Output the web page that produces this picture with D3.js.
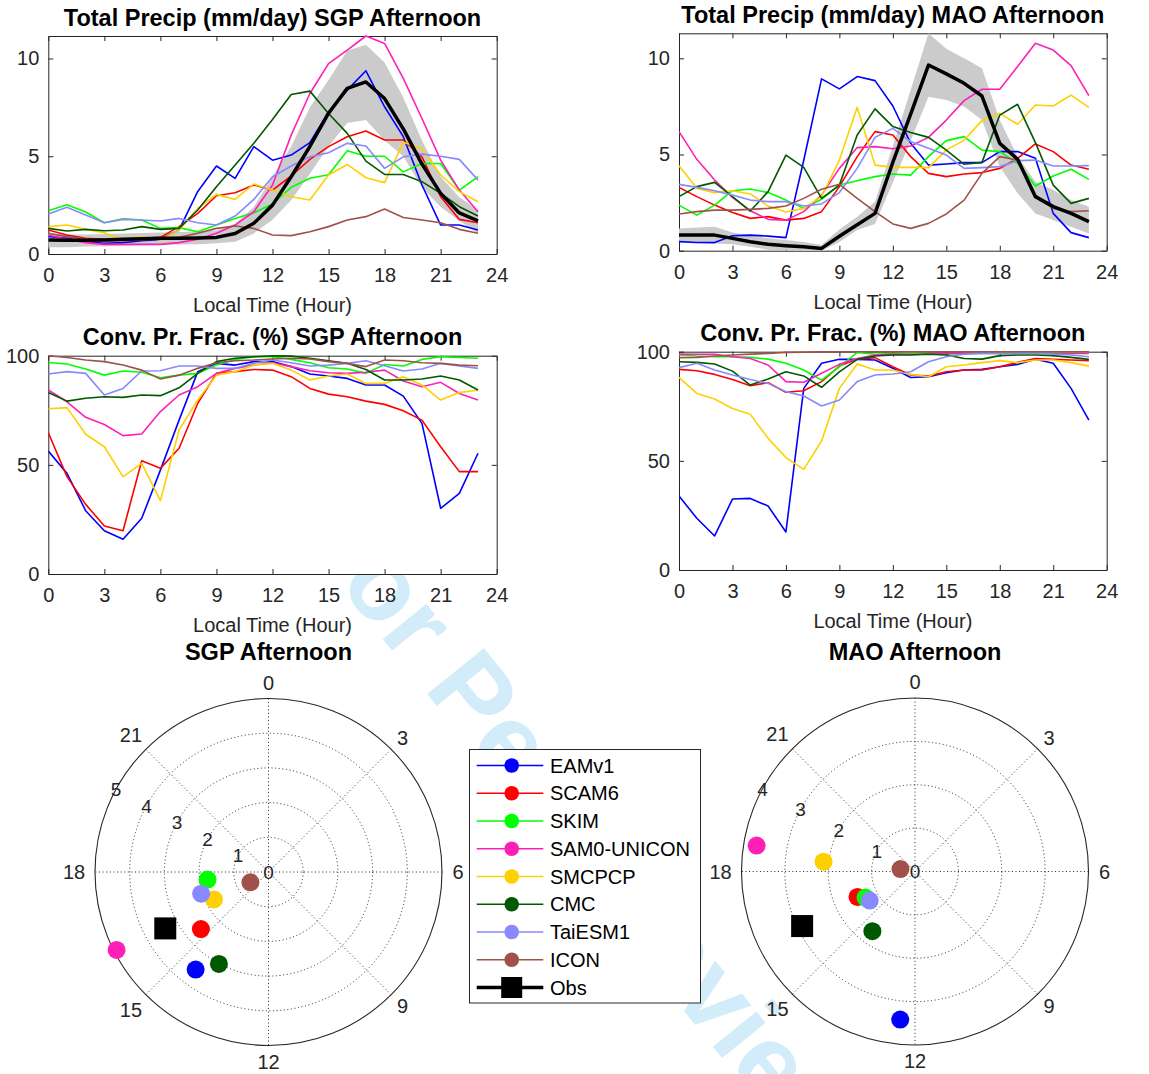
<!DOCTYPE html>
<html>
<head>
<meta charset="utf-8">
<script src="https://cdn.jsdelivr.net/npm/d3@7"></script>
<style>
  body { margin: 0; background: #ffffff; }
  svg { display: block; }
</style>
</head>
<body>
<svg id="fig" width="1149" height="1074"></svg>
<script>
// ---------- data ----------
const hours = d3.range(24);
const hourTicks = [0, 3, 6, 9, 12, 15, 18, 21, 24];
const precipTicks = [0, 5, 10];
const fracTicks = [0, 50, 100];
const clockTicks = [0, 3, 6, 9, 12, 15, 18, 21];
const sgpRingTicks = [0, 1, 2, 3, 4, 5];
const maoRingTicks = [0, 1, 2, 3, 4];

const models = ["EAMv1", "SCAM6", "SKIM", "SAM0-UNICON", "SMCPCP", "CMC", "TaiESM1", "ICON"];
const modelColors = ["#0000ff", "#ff0000", "#00ff00", "#ff1fb6", "#ffd000", "#005800", "#8888ff", "#a0524a"];
const obsLabel = "Obs";

// SGP total precipitation (mm/day), local hours 0-23
const sgpPrecipEAMv1   = [0.9,0.8,0.63,0.55,0.58,0.68,0.75,1.23,3.2,4.5,3.87,5.49,4.8,5.06,5.7,7.27,8.38,9.37,7.53,6.0,3.53,1.48,1.48,1.23];
const sgpPrecipSCAM6   = [1.23,0.97,0.8,0.75,0.75,0.8,0.85,1.4,2.08,2.98,3.13,3.53,3.27,3.99,4.84,5.49,6.0,6.29,5.83,5.83,4.97,2.93,1.77,1.6];
const sgpPrecipSKIM    = [2.21,2.52,2.15,1.6,1.8,1.74,1.31,1.35,1.14,1.48,1.82,2.11,2.56,3.41,3.87,4.05,5.28,5.0,5.0,4.2,4.63,4.63,3.27,3.95];
const sgpPrecipSAM0    = [0.97,0.75,0.58,0.49,0.49,0.49,0.49,0.58,0.75,1.06,1.48,2.16,3.53,6.08,8.21,9.74,10.43,11.15,10.77,8.98,6.93,4.8,3.27,2.16];
const sgpPrecipSMCPCP  = [1.4,1.48,1.26,1.09,0.72,0.89,0.72,1.23,2.33,3.05,2.79,3.58,3.27,2.93,2.76,4.04,4.58,3.9,3.65,5.71,5.4,4.04,3.19,2.67];
const sgpPrecipCMC     = [1.31,1.18,1.26,1.19,1.23,1.4,1.26,1.31,2.25,3.44,4.55,5.66,6.88,8.16,8.33,7.19,6.17,4.75,4.07,4.07,3.7,3.1,2.42,1.94];
const sgpPrecipTaiESM1 = [2.04,2.39,1.99,1.6,1.77,1.74,1.69,1.82,1.6,1.48,1.94,2.79,3.95,4.5,4.97,5.18,5.66,5.52,4.38,4.97,5.11,5.0,4.84,3.78];
const sgpPrecipICON    = [1.06,0.89,0.75,0.68,0.68,0.72,0.8,0.85,1.06,1.31,1.43,1.31,0.97,0.94,1.14,1.4,1.74,1.91,2.3,1.87,1.74,1.6,1.26,1.06];
const sgpPrecipObs     = [0.72,0.7,0.7,0.72,0.75,0.78,0.8,0.8,0.82,0.85,1.05,1.57,2.5,3.95,5.5,7.2,8.47,8.8,7.95,6.4,4.6,3.1,2.1,1.7];
const sgpPrecipObsLo   = [0.35,0.35,0.38,0.4,0.42,0.45,0.47,0.48,0.5,0.55,0.63,1.05,1.75,2.75,4.1,5.5,6.7,6.85,5.8,5.0,3.4,2.4,1.7,1.05];
const sgpPrecipObsHi   = [1.05,1.0,1.0,1.02,1.05,1.08,1.1,1.12,1.15,1.2,1.55,2.4,3.95,5.5,7.5,8.9,10.4,10.7,9.8,8.0,5.8,3.95,2.9,2.25];

// MAO total precipitation (mm/day)
const maoPrecipEAMv1   = [0.47,0.43,0.42,0.78,0.81,0.76,0.68,4.7,8.93,8.41,9.05,8.84,7.52,5.58,4.45,4.51,4.58,4.58,5.15,5.15,4.8,1.94,0.94,0.68];
const maoPrecipSCAM6   = [3.29,2.81,2.37,1.98,1.68,1.77,1.59,1.68,2.03,3.33,4.89,6.19,6.01,4.89,4.02,3.85,3.99,4.06,4.28,4.8,5.55,5.15,4.45,4.23];
const maoPrecipSKIM    = [2.37,1.85,2.37,3.12,3.21,3.02,2.63,2.2,2.67,3.41,3.64,3.85,3.99,3.93,4.89,5.72,5.93,5.23,5.15,4.54,3.36,3.88,4.23,3.71];
const maoPrecipSAM0    = [6.19,4.75,3.67,2.77,2.08,1.63,1.59,2.03,2.89,4.28,5.36,5.41,5.3,5.44,5.89,6.79,7.8,8.39,8.39,9.57,10.78,10.43,9.62,8.06];
const maoPrecipSMCPCP  = [4.42,3.24,3.02,3.12,2.95,2.32,2.01,2.2,2.81,4.71,7.45,4.45,4.33,4.33,4.32,5.23,5.75,6.76,7.14,6.57,7.57,7.52,8.09,7.45];
const maoPrecipCMC     = [2.81,3.33,3.55,2.81,2.06,3.07,4.97,4.33,2.72,3.41,6.01,7.37,6.45,6.14,5.89,5.23,4.49,4.59,7.05,7.61,5.62,3.41,2.46,2.72];
const maoPrecipTaiESM1 = [3.45,3.29,3.12,2.89,2.63,2.55,2.55,2.32,2.43,3.02,4.28,5.89,6.36,5.67,5.32,4.97,4.28,4.32,4.37,4.68,4.71,4.4,4.4,4.42];
const maoPrecipICON    = [1.91,2.03,2.11,2.11,2.15,2.2,2.32,2.72,3.19,3.45,2.72,2.03,1.39,1.16,1.42,1.91,2.63,4.02,4.89,4.71,2.81,2.2,2.03,2.08];
const maoPrecipObs     = [0.81,0.81,0.81,0.64,0.47,0.33,0.26,0.21,0.12,0.75,1.35,1.94,4.6,7.1,9.65,9.19,8.7,8.04,5.58,4.75,2.81,2.29,1.94,1.51];
const maoPrecipObsLo   = [0.47,0.45,0.38,0.33,0.2,0.05,0.02,0.0,0.0,0.45,1.07,1.39,3.55,5.72,8.0,7.83,7.49,6.79,4.37,2.98,1.94,1.59,1.25,0.9];
const maoPrecipObsHi   = [1.16,1.2,1.25,0.95,0.8,0.65,0.55,0.45,0.3,1.1,1.77,2.55,5.44,8.35,11.3,10.5,10.0,9.48,6.79,4.89,3.59,3.15,2.63,2.29];

// SGP convective precipitation fraction (%)
const sgpFracEAMv1   = [56.3,46.1,29.0,19.8,15.9,25.5,47.6,70.5,92.7,96.5,95.7,97.3,97.3,95.0,91.6,90.7,89.6,86.6,86.6,81.5,69.0,30.1,36.9,55.3];
const sgpFracSCAM6   = [64.7,44.6,31.9,22.0,19.8,51.9,48.4,57.6,78.2,91.9,92.7,93.7,93.4,90.4,85.0,82.4,81.2,79.2,77.7,74.8,70.5,58.3,46.9,46.9];
const sgpFracSKIM    = [96.9,96.2,93.9,91.1,93.0,92.4,89.9,91.1,91.9,95.7,98.3,99.5,99.5,98.3,96.8,94.5,93.9,91.9,96.0,95.3,98.3,99.5,99.2,98.8];
const sgpFracSAM0    = [84.3,78.9,71.8,68.5,63.4,64.1,74.4,82.0,85.8,91.9,94.2,95.7,96.8,95.0,93.1,92.2,91.9,92.4,93.4,88.4,85.8,87.8,82.7,79.7];
const sgpFracSMCPCP  = [75.7,76.2,64.0,58.3,44.6,50.7,33.6,66.0,79.7,91.1,92.7,95.7,96.5,93.4,88.9,90.7,91.6,87.3,87.3,90.4,86.6,79.7,83.1,84.3];
const sgpFracCMC     = [83.1,79.2,80.5,81.2,80.9,82.0,81.7,85.3,91.9,97.3,98.8,99.5,100,99.8,98.8,97.7,96.5,93.7,88.9,88.9,89.3,90.7,88.9,84.3];
const sgpFracTaiESM1 = [91.6,92.7,91.9,82.0,85.0,93.0,93.1,95.3,95.3,94.2,94.2,96.5,98.0,96.8,95.3,95.7,96.5,97.7,95.4,93.0,93.9,96.5,95.3,94.2];
const sgpFracICON    = [100,99.2,98.0,97.3,95.7,93.4,89.3,91.1,94.2,96.8,97.7,98.0,98.5,98.8,98.5,97.3,96.5,95.0,98.0,97.7,96.8,96.5,95.7,95.4];

// MAO convective precipitation fraction (%)
const maoFracEAMv1   = [33.9,23.7,15.6,32.5,32.8,29.3,17.4,83.2,94.7,96.5,96.5,96.2,92.4,88.2,88.5,90.4,91.6,91.9,93.1,94.2,96.5,94.7,83.2,68.7];
const maoFracSCAM6   = [91.9,91.3,89.6,87.3,84.4,85.8,81.4,82.1,86.3,93.4,96.6,97.3,93.1,89.3,88.9,90.8,91.6,91.6,93.1,95.1,96.9,96.5,96.2,95.9];
const maoFracSKIM    = [98.5,98.0,97.7,97.7,97.4,96.6,94.7,91.6,87.0,93.1,99.7,98.8,99.2,99.5,99.2,98.8,99.2,99.5,99.8,99.8,99.8,99.8,99.8,99.8];
const maoFracSAM0    = [98.9,98.8,98.8,97.7,96.9,93.9,86.3,86.0,90.1,94.2,96.9,98.5,98.8,98.8,98.9,99.2,99.2,99.2,99.2,99.2,99.2,99.2,99.2,99.2];
const maoFracSMCPCP  = [88.2,80.9,78.3,74.0,71.3,60.3,51.5,46.1,59.1,83.2,94.4,91.6,91.6,89.6,88.5,93.1,93.9,95.0,95.9,95.0,96.2,96.2,95.0,93.4];
const maoFracCMC     = [95.4,95.1,94.4,91.1,84.7,87.5,90.8,88.9,83.7,90.8,96.5,98.0,98.5,98.5,98.8,98.5,96.9,96.6,98.2,98.5,98.5,98.2,97.4,96.5];
const maoFracTaiESM1 = [92.7,94.7,91.6,89.3,87.3,85.5,81.7,79.7,75.1,77.9,86.3,89.3,89.8,90.8,95.4,97.7,98.8,99.2,99.2,99.2,99.2,98.9,98.5,97.7];
const maoFracICON    = [97.3,97.4,98.0,98.5,98.9,99.2,99.7,99.8,100,100,100,100,100,100,100,100,100,100,100,100,100,100,100,100];

// Diurnal harmonic: phase (local hour of maximum) and amplitude (mm/day); last entry is Obs
const sgpPhase = [14.45, 15.32, 17.53, 16.19, 16.22, 13.89, 16.81, 16.03, 16.09];
const sgpAmp   = [3.51, 2.55, 1.77, 4.92, 1.76, 3.01, 2.04, 0.60, 3.39];
const maoPhase = [12.38, 16.41, 16.15, 18.62, 18.41, 14.37, 15.82, 18.62, 16.28];
const maoAmp   = [3.43, 1.45, 1.29, 3.70, 2.12, 1.69, 1.24, 0.34, 2.89];

// ---------- drawing ----------
const FONT = "'Liberation Sans', Arial, Helvetica, sans-serif";
const INK = "#262626";
const svg = d3.select("#fig");

// faint diagonal watermark (sits behind the plot backgrounds)
svg.append("text")
  .attr("transform", "translate(296.7,532.9) rotate(51)")
  .attr("font-family", FONT)
  .attr("font-weight", "bold")
  .attr("font-size", 106)
  .attr("fill", "#d2ecfa")
  .text("For Peer Review");

const linePanels = [
  { title: "Total Precip (mm/day) SGP Afternoon", box: [48.3, 36, 496.7, 254], yTicks: precipTicks,
    series: [sgpPrecipEAMv1, sgpPrecipSCAM6, sgpPrecipSKIM, sgpPrecipSAM0, sgpPrecipSMCPCP, sgpPrecipCMC, sgpPrecipTaiESM1, sgpPrecipICON],
    obs: sgpPrecipObs, band: [sgpPrecipObsLo, sgpPrecipObsHi] },
  { title: "Total Precip (mm/day) MAO Afternoon", box: [679, 33.3, 1106.7, 250.7], yTicks: precipTicks,
    series: [maoPrecipEAMv1, maoPrecipSCAM6, maoPrecipSKIM, maoPrecipSAM0, maoPrecipSMCPCP, maoPrecipCMC, maoPrecipTaiESM1, maoPrecipICON],
    obs: maoPrecipObs, band: [maoPrecipObsLo, maoPrecipObsHi] },
  { title: "Conv. Pr. Frac. (%) SGP Afternoon", box: [48.3, 355.7, 496.7, 574], yTicks: fracTicks, yMax: 100,
    series: [sgpFracEAMv1, sgpFracSCAM6, sgpFracSKIM, sgpFracSAM0, sgpFracSMCPCP, sgpFracCMC, sgpFracTaiESM1, sgpFracICON] },
  { title: "Conv. Pr. Frac. (%) MAO Afternoon", box: [679, 351.7, 1106.7, 570], yTicks: fracTicks, yMax: 100,
    series: [maoFracEAMv1, maoFracSCAM6, maoFracSKIM, maoFracSAM0, maoFracSMCPCP, maoFracCMC, maoFracTaiESM1, maoFracICON] }
];

function styleAxis(sel) {
  sel.selectAll("path.domain").attr("stroke", INK).attr("stroke-width", 1);
  sel.selectAll(".tick line").attr("stroke", INK).attr("stroke-width", 1);
  sel.selectAll(".tick text").attr("font-size", 20).attr("font-family", FONT).attr("fill", INK);
}

linePanels.forEach((p, idx) => {
  const [x0, y0, x1, y1] = p.box;
  const allVals = p.series.flat().concat(p.obs || [], p.band ? p.band[1] : []);
  const x = d3.scaleLinear().domain([0, 24]).range([x0, x1]);
  const y = d3.scaleLinear().domain([0, p.yMax ?? d3.max(allVals)]).range([y1, y0]);
  const g = svg.append("g");

  g.append("rect").attr("x", x0).attr("y", y0).attr("width", x1 - x0).attr("height", y1 - y0).attr("fill", "#ffffff");

  const ax = g.append("g");
  ax.append("g").attr("transform", `translate(0,${y1})`)
    .call(d3.axisBottom(x).tickValues(hourTicks).tickSize(-5).tickSizeOuter(0).tickPadding(14).tickFormat(d3.format("d")));
  ax.append("g").attr("transform", `translate(0,${y0})`)
    .call(d3.axisTop(x).tickValues(hourTicks).tickSize(-5).tickSizeOuter(0).tickFormat(""));
  ax.append("g").attr("transform", `translate(${x0},0)`)
    .call(d3.axisLeft(y).tickValues(p.yTicks).tickSize(-5).tickSizeOuter(0).tickPadding(9).tickFormat(d3.format("d")));
  ax.append("g").attr("transform", `translate(${x1},0)`)
    .call(d3.axisRight(y).tickValues(p.yTicks).tickSize(-5).tickSizeOuter(0).tickFormat(""));
  styleAxis(ax);

  const clipId = "plotclip" + idx;
  svg.append("clipPath").attr("id", clipId).append("rect")
    .attr("x", x0).attr("y", y0 - 1).attr("width", x1 - x0).attr("height", y1 - y0 + 2);
  const plot = g.append("g").attr("clip-path", `url(#${clipId})`);

  if (p.band) {
    plot.append("path").datum(hours)
      .attr("d", d3.area().x(h => x(h)).y0(h => y(p.band[0][h])).y1(h => y(p.band[1][h])))
      .attr("fill", "#cbcbcb");
  }
  const line = d3.line().x((v, h) => x(h)).y(v => y(v));
  p.series.forEach((vals, i) => {
    plot.append("path").datum(vals).attr("d", line)
      .attr("fill", "none").attr("stroke", modelColors[i]).attr("stroke-width", 1.6)
      .attr("stroke-linejoin", "round");
  });
  if (p.obs) {
    plot.append("path").datum(p.obs).attr("d", line)
      .attr("fill", "none").attr("stroke", "#000000").attr("stroke-width", 3.5)
      .attr("stroke-linejoin", "round");
  }

  g.append("text").attr("x", (x0 + x1) / 2).attr("y", y0 - 10.3)
    .attr("text-anchor", "middle").attr("font-family", FONT).attr("font-weight", "bold")
    .attr("font-size", 23.5).attr("fill", "#000000").text(p.title);
  g.append("text").attr("x", (x0 + x1) / 2).attr("y", y1 + 58)
    .attr("text-anchor", "middle").attr("font-family", FONT)
    .attr("font-size", 20).attr("fill", INK).text("Local Time (Hour)");
});

// ---------- clock-face (polar) plots ----------
const polarPanels = [
  { title: "SGP Afternoon", cx: 268.5, cy: 872, R: 173.5, ringTicks: sgpRingTicks, phase: sgpPhase, amp: sgpAmp },
  { title: "MAO Afternoon", cx: 915, cy: 871.5, R: 173.5, ringTicks: maoRingTicks, phase: maoPhase, amp: maoAmp }
];

polarPanels.forEach(p => {
  const rMax = d3.max(p.ringTicks);
  const r = d3.scaleLinear().domain([0, rMax]).range([0, p.R]);
  const ang = d3.scaleLinear().domain([0, 24]).range([0, 2 * Math.PI]);
  const pos = (h, a) => [p.cx + a * Math.sin(ang(h)), p.cy - a * Math.cos(ang(h))];
  const g = svg.append("g");

  g.append("circle").attr("cx", p.cx).attr("cy", p.cy).attr("r", p.R).attr("fill", "#ffffff");

  // spokes every 3 hours, drawn as full diameters
  [0, 3, 6, 9].forEach(h => {
    const a = pos(h, p.R), b = pos(h + 12, p.R);
    g.append("line").attr("x1", a[0]).attr("y1", a[1]).attr("x2", b[0]).attr("y2", b[1])
      .attr("stroke", INK).attr("stroke-width", 1).attr("stroke-dasharray", "1,2.6");
  });
  // dotted amplitude rings
  p.ringTicks.filter(t => t > 0 && t < rMax).forEach(t => {
    g.append("circle").attr("cx", p.cx).attr("cy", p.cy).attr("r", r(t))
      .attr("fill", "none").attr("stroke", INK).attr("stroke-width", 1).attr("stroke-dasharray", "1,2.6");
  });
  g.append("circle").attr("cx", p.cx).attr("cy", p.cy).attr("r", p.R)
    .attr("fill", "none").attr("stroke", INK).attr("stroke-width", 1.1);

  // amplitude labels along the ~20 h direction
  p.ringTicks.forEach(t => {
    const [lx, ly] = pos(19.9, r(t));
    g.append("text").attr("x", lx).attr("y", ly).attr("dy", "0.36em")
      .attr("text-anchor", "middle").attr("font-family", FONT).attr("font-size", 19)
      .attr("fill", INK).text(t);
  });
  // clock-hour labels; the wider ones on the left side sit slightly further out
  clockTicks.forEach(h => {
    const off = h > 12 ? 21 : 16;
    const [lx, ly] = pos(h, p.R + off);
    g.append("text").attr("x", lx).attr("y", ly).attr("dy", "0.36em")
      .attr("text-anchor", "middle").attr("font-family", FONT).attr("font-size", 20)
      .attr("fill", INK).text(h);
  });

  // model markers, then the observation square on top
  models.forEach((m, i) => {
    const [mx, my] = pos(p.phase[i], r(p.amp[i]));
    g.append("circle").attr("cx", mx).attr("cy", my).attr("r", 9).attr("fill", modelColors[i]);
  });
  const k = models.length;
  const [ox, oy] = pos(p.phase[k], r(p.amp[k]));
  g.append("rect").attr("x", ox - 11).attr("y", oy - 11).attr("width", 22).attr("height", 22).attr("fill", "#000000");

  g.append("text").attr("x", p.cx).attr("y", 660)
    .attr("text-anchor", "middle").attr("font-family", FONT).attr("font-weight", "bold")
    .attr("font-size", 23.5).attr("fill", "#000000").text(p.title);
});

// ---------- legend ----------
const legend = svg.append("g");
legend.append("rect").attr("x", 469.5).attr("y", 749.5).attr("width", 231).attr("height", 253.5)
  .attr("fill", "#ffffff").attr("stroke", INK).attr("stroke-width", 1);
const legendEntries = models.concat([obsLabel]);
const legendY = d3.scaleLinear().domain([0, legendEntries.length - 1]).range([765.5, 987.5]);
legendEntries.forEach((name, i) => {
  const yy = legendY(i);
  const isObs = i === models.length;
  const color = isObs ? "#000000" : modelColors[i];
  legend.append("line").attr("x1", 476.7).attr("x2", 543.3).attr("y1", yy).attr("y2", yy)
    .attr("stroke", color).attr("stroke-width", isObs ? 3.5 : 1.6);
  if (isObs) {
    legend.append("rect").attr("x", 511.7 - 10.5).attr("y", yy - 10.5).attr("width", 21).attr("height", 21).attr("fill", "#000000");
  } else {
    legend.append("circle").attr("cx", 511.7).attr("cy", yy).attr("r", 7.3).attr("fill", color);
  }
  legend.append("text").attr("x", 550).attr("y", yy).attr("dy", "0.36em")
    .attr("font-family", FONT).attr("font-size", 20).attr("fill", "#000000").text(name);
});
</script>
</body>
</html>
